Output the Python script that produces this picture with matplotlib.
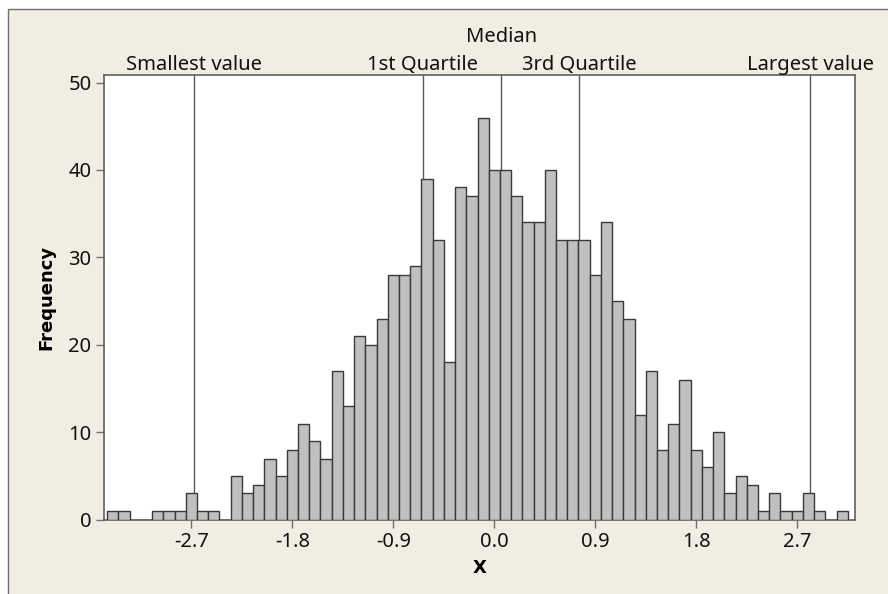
import matplotlib
matplotlib.use("Agg")
import matplotlib.pyplot as plt
from matplotlib.patches import Rectangle
from matplotlib.ticker import FixedLocator

# ---- data ----
bin_centers = [-3.4, -3.3, -3.2, -3.1, -3.0, -2.9, -2.8, -2.7, -2.6, -2.5, -2.4,
               -2.3, -2.2, -2.1, -2.0, -1.9, -1.8, -1.7, -1.6, -1.5, -1.4, -1.3,
               -1.2, -1.1, -1.0, -0.9, -0.8, -0.7, -0.6, -0.5, -0.4, -0.3, -0.2,
               -0.1, 0.0, 0.1, 0.2, 0.3, 0.4, 0.5, 0.6, 0.7, 0.8, 0.9, 1.0, 1.1,
               1.2, 1.3, 1.4, 1.5, 1.6, 1.7, 1.8, 1.9, 2.0, 2.1, 2.2, 2.3, 2.4,
               2.5, 2.6, 2.7, 2.8, 2.9, 3.0, 3.1]
counts = [1, 1, 0, 0, 1, 1, 1, 3, 1, 1, 0,
          5, 3, 4, 7, 5, 8, 11, 9, 7, 17, 13,
          21, 20, 23, 28, 28, 29, 39, 32, 18, 38, 37,
          46, 40, 40, 37, 34, 34, 40, 32, 32, 32, 28, 34, 25,
          23, 12, 17, 8, 11, 16, 8, 6, 10, 3, 5, 4, 1,
          3, 1, 1, 3, 1, 0, 1]
bin_width = 0.1

ref_labels = ["Smallest value", "1st Quartile", "Median", "3rd Quartile", "Largest value"]
ref_values = [-2.674, -0.638, 0.062, 0.758, 2.816]

x_ticks = [-2.7, -1.8, -0.9, 0.0, 0.9, 1.8, 2.7]
x_ticklabels = ["-2.7", "-1.8", "-0.9", "0.0", "0.9", "1.8", "2.7"]
y_ticks = [0, 10, 20, 30, 40, 50]

plt.rcParams["font.family"] = ["Noto Sans", "DejaVu Sans"]

BG = "#F0EDE3"
fig = plt.figure(figsize=(8.88, 5.94), dpi=100)
fig.patch.set_facecolor("white")
fig.patches.append(Rectangle((8 / 888, -0.5), 1.5, 1.5 - 9 / 594, transform=fig.transFigure,
                             facecolor=BG, edgecolor="#707070", linewidth=1.0, zorder=-5))

ax = fig.add_axes([104 / 888, 1 - 519.7 / 594, (855.3 - 104) / 888, (519.7 - 74.7) / 594])
ax.set_facecolor("white")

ax.bar(bin_centers, counts, width=bin_width, color="#C0C0C0", edgecolor="#3A3A3A",
       linewidth=1.0, zorder=3)

for lab, v in zip(ref_labels, ref_values):
    ax.axvline(v, color="#5A5A5A", linewidth=1.0, zorder=2)
    yy = 1.0735 if lab == "Median" else 1.0106
    ax.text(v, yy, lab, transform=ax.get_xaxis_transform(), ha="center", va="baseline",
            fontsize=14.5, color="#111111")

ax.set_xlim(-3.479, 3.217)
ax.set_ylim(0, 50.9)
ax.xaxis.set_major_locator(FixedLocator(x_ticks))
ax.set_xticklabels(x_ticklabels)
ax.yaxis.set_major_locator(FixedLocator(y_ticks))
ax.tick_params(axis="both", direction="out", length=6, width=1.0, color="#707070",
               labelsize=14.5, labelcolor="#111111", pad=3)

for s in ax.spines.values():
    s.set_color("#606060")
    s.set_linewidth(1.2)

ax.set_xlabel("X", fontsize=13, fontweight="bold", family=["DejaVu Sans"], labelpad=5)
ax.set_ylabel("Frequency", fontsize=13, fontweight="bold", family=["DejaVu Sans"], labelpad=9)

fig.savefig("out.png", dpi=100, facecolor=fig.get_facecolor())
